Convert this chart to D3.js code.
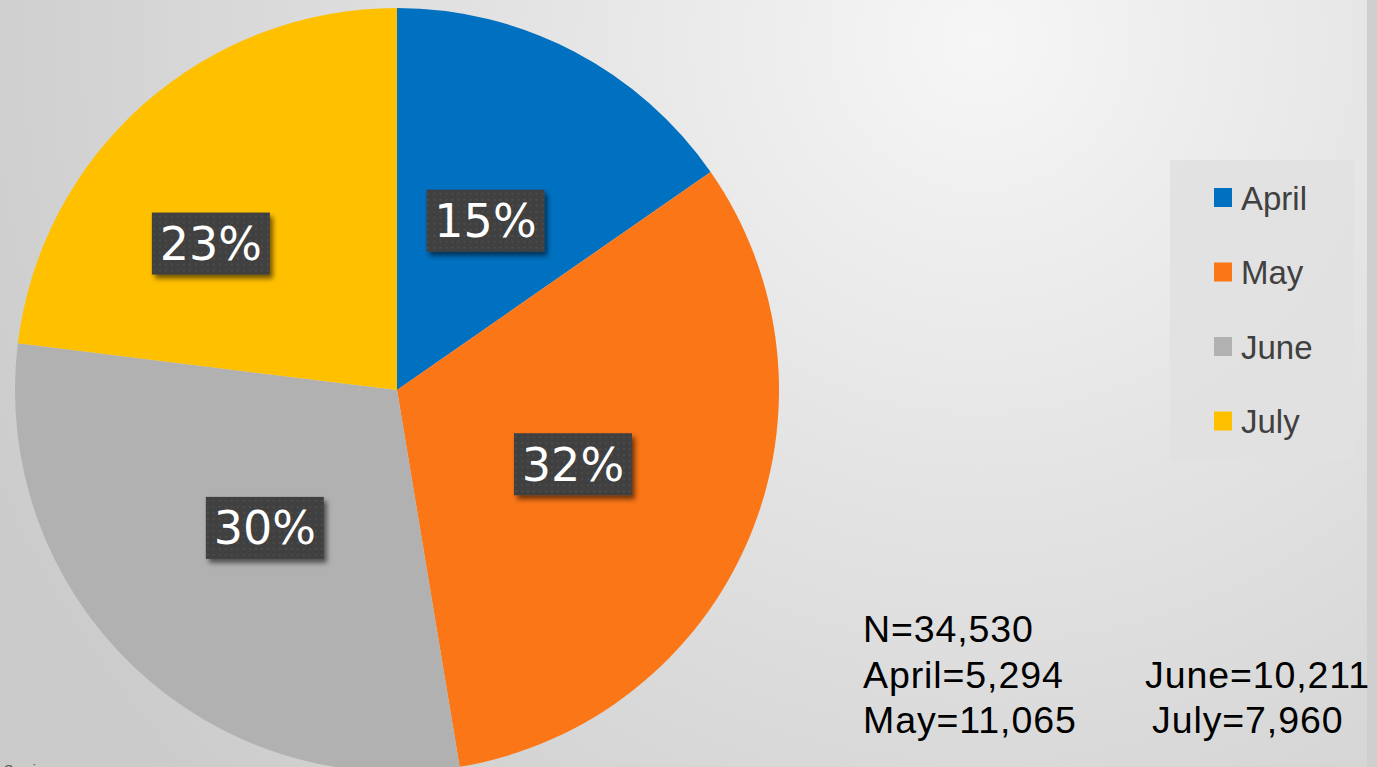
<!DOCTYPE html>
<html>
<head>
<meta charset="utf-8">
<script src="https://cdn.jsdelivr.net/npm/d3@7"></script>
<style>
  html, body { margin: 0; padding: 0; overflow: hidden; }
  svg { display: block; }
</style>
</head>
<body>
<div id="chart"></div>
<script>
var months  = ['April', 'May', 'June', 'July'];
var counts  = [5294, 11065, 10211, 7960];
var colors  = ['#0070c0', '#fa7616', '#b1b1b1', '#ffc000'];
var total   = 34530;

var width  = 1377,
    height = 767;

var cx = 397, cy = 390, radius = 382;

var svg = d3.select('#chart').append('svg')
  .attr('width', width)
  .attr('height', height);

var defs = svg.append('defs');

// Background
var bg = defs.append('radialGradient')
  .attr('id', 'bg')
  .attr('gradientUnits', 'userSpaceOnUse')
  .attr('cx', 980).attr('cy', 40).attr('r', 1100);
bg.append('stop').attr('offset', '0%').attr('stop-color', '#f6f6f6');
bg.append('stop').attr('offset', '45%').attr('stop-color', '#e2e2e2');
bg.append('stop').attr('offset', '100%').attr('stop-color', '#cbcbcb');

// Dotted label fill
var pat = defs.append('pattern')
  .attr('id', 'dots')
  .attr('patternUnits', 'userSpaceOnUse')
  .attr('width', 6).attr('height', 6);
pat.append('rect').attr('width', 6).attr('height', 6).attr('fill', '#404040');
pat.append('rect').attr('x', 2).attr('y', 2).attr('width', 2).attr('height', 2).attr('fill', '#4c4c4c');

var shadow = defs.append('filter')
  .attr('id', 'shadow')
  .attr('x', '-20%').attr('y', '-20%').attr('width', '140%').attr('height', '140%');
shadow.append('feDropShadow')
  .attr('dx', 3).attr('dy', 4).attr('stdDeviation', 2.5)
  .attr('flood-color', '#000').attr('flood-opacity', 0.55);

svg.append('rect')
  .attr('width', width)
  .attr('height', height)
  .attr('fill', 'url(#bg)');

svg.append('rect')
  .attr('x', 1367).attr('width', 10).attr('height', height)
  .attr('fill', '#cfcfcf');

// Pie
var data = months.map(function(m, i) { return { label: m, value: counts[i], color: colors[i] }; });

var pie = d3.pie()
  .sort(null)
  .value(function(d) { return d.value; });

var arc = d3.arc()
  .innerRadius(0)
  .outerRadius(radius);

var g = svg.append('g')
  .attr('transform', 'translate(' + cx + ',' + cy + ')');

var arcs = pie(data);

g.selectAll('.slice')
  .data(arcs)
.enter().append('path')
  .attr('class', 'slice')
  .attr('d', arc)
  .attr('fill', function(d) { return d.data.color; });

// Percentage labels (Excel nudges the July label out and round)
var labelPos = function(d, i) {
  var a = (d.startAngle + d.endAngle) / 2,
      r = radius * 0.5;
  if (i === 3) { a -= 0.18; r = radius * 0.62; }
  return [Math.sin(a) * r, -Math.cos(a) * r];
};

var labels = g.selectAll('.pct')
  .data(arcs)
.enter().append('g')
  .attr('class', 'pct')
  .attr('transform', function(d, i) {
    var p = labelPos(d, i);
    return 'translate(' + p[0] + ',' + p[1] + ')';
  });

labels.append('rect')
  .attr('x', -59).attr('y', -31)
  .attr('width', 118).attr('height', 62)
  .attr('fill', 'url(#dots)')
  .attr('filter', 'url(#shadow)');

labels.append('text')
  .attr('text-anchor', 'middle')
  .attr('dy', '0.36em')
  .attr('font-family', 'DejaVu Sans, sans-serif')
  .attr('font-size', 46)
  .attr('fill', '#ffffff')
  .text(function(d) { return Math.round(d.data.value / total * 100) + '%'; });

// Legend
var legend = svg.append('g')
  .attr('transform', 'translate(1170,160)');

legend.append('rect')
  .attr('width', 184).attr('height', 300)
  .attr('fill', '#e0e0e0')
  .attr('opacity', 0.85);

var item = legend.selectAll('.item')
  .data(data)
.enter().append('g')
  .attr('class', 'item')
  .attr('transform', function(d, i) { return 'translate(44,' + (38 + i * 74.5) + ')'; });

item.append('rect')
  .attr('y', -10).attr('width', 18).attr('height', 19)
  .attr('fill', function(d) { return d.color; });

item.append('text')
  .attr('x', 27)
  .attr('dy', '0.35em')
  .attr('font-family', 'Liberation Sans, Arial, sans-serif')
  .attr('font-size', 33)
  .attr('fill', '#404040')
  .text(function(d) { return d.label; });

// Counts
var fmt = d3.format(',');
var notes = [
  { x: 863,  y: 642, t: 'N=' + fmt(total) },
  { x: 863,  y: 688, t: months[0] + '=' + fmt(counts[0]) },
  { x: 863,  y: 733, t: months[1] + '=' + fmt(counts[1]) },
  { x: 1145, y: 688, t: months[2] + '=' + fmt(counts[2]) },
  { x: 1152, y: 733, t: months[3] + '=' + fmt(counts[3]) }
];

svg.selectAll('.note')
  .data(notes)
.enter().append('text')
  .attr('class', 'note')
  .attr('x', function(d) { return d.x; })
  .attr('y', function(d) { return d.y; })
  .attr('font-family', 'Liberation Sans, Arial, sans-serif')
  .attr('font-size', 37.5)
  .attr('letter-spacing', 0.9)
  .attr('fill', '#000')
  .text(function(d) { return d.t; });

svg.append('text')
  .attr('x', 4).attr('y', 775)
  .attr('font-family', 'Liberation Sans, Arial, sans-serif')
  .attr('font-size', 14)
  .attr('fill', '#555')
  .text('Services');
</script>
</body>
</html>
